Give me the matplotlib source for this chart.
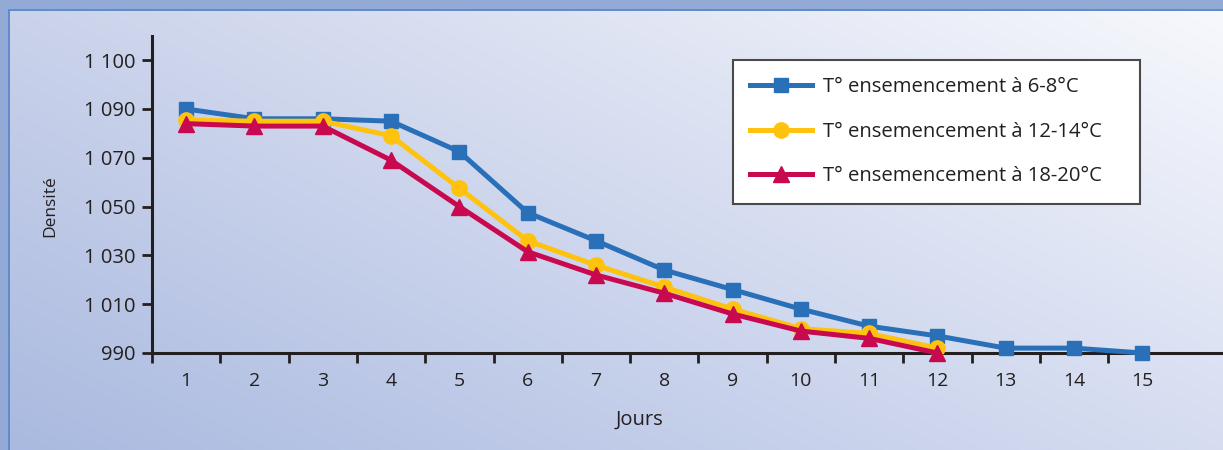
import numpy as np
import matplotlib
matplotlib.use('Agg')
import matplotlib.pyplot as plt

# ---- data ----
days = list(range(1, 16))
temp_6_8 = [1090, 1086, 1086, 1085, 1072.5, 1047.5, 1036, 1024, 1016, 1008, 1001, 997, 992, 992, 990]
days_short = list(range(1, 13))
temp_12_14 = [1085.5, 1085, 1085, 1079, 1057.5, 1036, 1026, 1017, 1008, 1000, 998, 992]
temp_18_20 = [1084, 1083, 1083, 1069, 1050, 1031.5, 1022, 1014.5, 1006, 999, 996, 990]
series_labels = ['T° ensemencement à 6-8°C', 'T° ensemencement à 12-14°C', 'T° ensemencement à 18-20°C']
ytick_vals = [990, 1010, 1030, 1050, 1070, 1090, 1110]
ytick_labels = ['990', '1 010', '1 030', '1 050', '1 070', '1 090', '1 100']
xtick_labels = [str(d) for d in days]

plt.rcParams['font.family'] = ['Open Sans', 'DejaVu Sans']
TXT = '#231f20'

W, H = 1223, 450
fig = plt.figure(figsize=(W / 100, H / 100), dpi=100)

# ---- background gradient + frame ----
bg = fig.add_axes([0, 0, 1, 1])
bg.set_axis_off()
def hexrgb(h):
    return np.array([int(h[i:i + 2], 16) for i in (1, 3, 5)]) / 255.0
TL, TR, BL, BR = hexrgb('#cbd3eb'), hexrgb('#f8f9fd'), hexrgb('#a9b9df'), hexrgb('#d6ddf1')
u = np.linspace(0, 1, W)[None, :, None]
v = np.linspace(0, 1, H)[:, None, None]
img = TL * (1 - u) * (1 - v) + TR * u * (1 - v) + BL * (1 - u) * v + BR * u * v
frame = hexrgb('#93a9d6')
edge = hexrgb('#5f8ccb')
img[:9, :, :] = frame
img[:, :8, :] = frame
img[9:11, 8:, :] = edge
img[9:, 8:10, :] = edge
bg.imshow(img, extent=(0, W, H, 0), interpolation='nearest', aspect='auto')
bg.set_xlim(0, W)
bg.set_ylim(H, 0)

# ---- main axes ----
ax = fig.add_axes([152 / W, (H - 353) / H, (W - 152) / W, 317 / H])
ax.patch.set_alpha(0)
ax.set_xlim(0.5, 0.5 + (W - 152) / 68.3)
ax.set_ylim(990, 990 + 317 / 2.44)

lw = 3.6
l1, = ax.plot(days, temp_6_8, color='#2970b8', lw=lw, marker='s', ms=10.5, clip_on=False, zorder=5)
l2, = ax.plot(days_short, temp_12_14, color='#ffc20e', lw=lw, marker='o', ms=11, clip_on=False, zorder=6)
l3, = ax.plot(days_short, temp_18_20, color='#c8084f', lw=lw, marker='^', ms=12, clip_on=False, zorder=7)

for s in ['top', 'right']:
    ax.spines[s].set_visible(False)
for s in ['left', 'bottom']:
    ax.spines[s].set_linewidth(2.2)
    ax.spines[s].set_color(TXT)
    ax.spines[s].set_zorder(4)

ax.set_xticks(days)
ax.set_xticklabels(xtick_labels)
ax.set_xticks([d - 0.5 for d in days], minor=True)
ax.tick_params(axis='x', which='major', length=0, pad=14, labelsize=14, labelcolor=TXT)
ax.tick_params(axis='x', which='minor', length=7, width=2, color=TXT, direction='out')
ax.set_yticks(ytick_vals)
ax.set_yticklabels(ytick_labels)
ax.tick_params(axis='y', which='major', length=7, width=2, color=TXT, pad=5, labelsize=14.5, labelcolor=TXT)

fig.text(639 / W, 1 - 420 / H, 'Jours', ha='center', va='center', fontsize=14.5, color=TXT)
fig.text(50 / W, 1 - 206 / H, 'Densité', ha='center', va='center', rotation=90, fontsize=12.5, color=TXT)

leg = ax.legend([l1, l2, l3], series_labels, loc='upper left', mode='expand',
                bbox_to_anchor=(733 / W, 1 - 202 / H, 407 / W, 142 / H), bbox_transform=fig.transFigure,
                frameon=True, fancybox=False, edgecolor='#4a4a4a', facecolor='white',
                framealpha=1, fontsize=14.6, handlelength=3.05, handletextpad=0.54,
                labelspacing=1.2, borderpad=0.86, borderaxespad=0)
leg.get_frame().set_linewidth(1.5)
for t in leg.get_texts():
    t.set_color(TXT)

fig.savefig('out.png', dpi=100)
